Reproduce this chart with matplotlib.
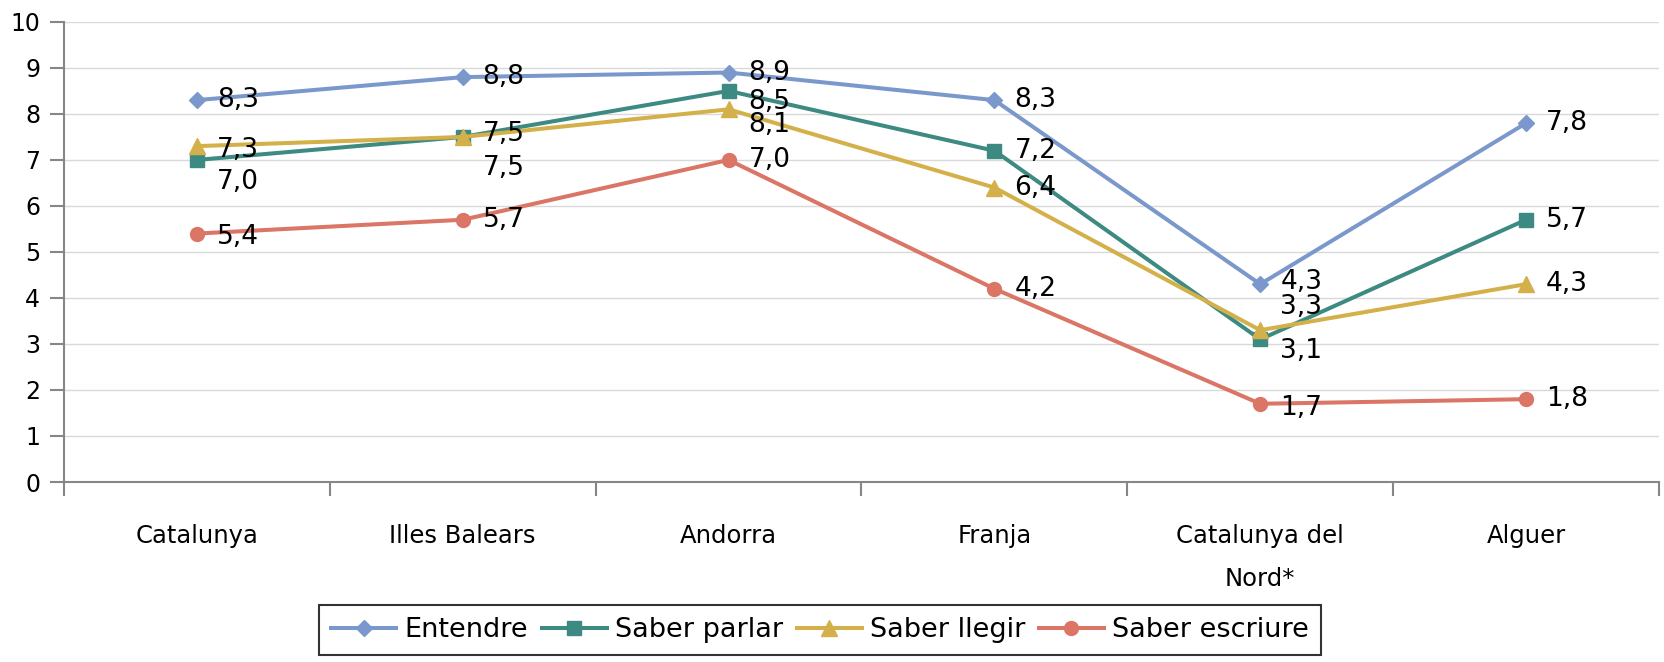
import matplotlib
matplotlib.use("Agg")
import matplotlib.pyplot as plt
import numpy as np

# data
categories = ["Catalunya", "Illes Balears", "Andorra", "Franja",
              "Catalunya del\nNord*", "Alguer"]
entendre = [8.3, 8.8, 8.9, 8.3, 4.3, 7.8]
saber_parlar = [7.0, 7.5, 8.5, 7.2, 3.1, 5.7]
saber_llegir = [7.3, 7.5, 8.1, 6.4, 3.3, 4.3]
saber_escriure = [5.4, 5.7, 7.0, 4.2, 1.7, 1.8]
series_names = ["Entendre", "Saber parlar", "Saber llegir", "Saber escriure"]

# style
colors = ["#7b98cc", "#3d8a82", "#d4b04a", "#db7565"]
markers = ["D", "s", "^", "o"]
msizes = [8.5, 9.5, 11, 10]
# label offsets in pixels (dy, positive = down)
label_dy = [
    [0, 0, 0, 0, -2, 0],
    [22, 31, 11, 0, 12, 0],
    [4, -3, 16, 0, -23, 0],
    [3, 0, 0, 0, 4, 0],
]

plt.rcParams['font.family'] = ['DejaVu Sans']

fig = plt.figure(figsize=(16.65, 6.62), dpi=100)
ax = fig.add_axes([0.0384, 0.2719, 0.958, 0.695])

x = np.arange(len(categories))
all_series = [entendre, saber_parlar, saber_llegir, saber_escriure]
for i, vals in enumerate(all_series):
    ax.plot(x, vals, color=colors[i], lw=2.9, marker=markers[i],
            markersize=msizes[i], label=series_names[i], zorder=3)
    for j, v in enumerate(vals):
        ax.annotate(f"{v:.1f}".replace(".", ","), (x[j], v),
                    xytext=(20, -label_dy[i][j]), textcoords="offset pixels",
                    ha="left", va="center", fontsize=19, zorder=4)

ax.set_ylim(0, 10)
ax.set_xlim(-0.5, len(categories) - 0.5)
ax.set_yticks(np.arange(0, 11, 1))
ax.yaxis.grid(True, color="#d9d9d9", lw=1)
ax.set_axisbelow(True)

# category boundaries as major ticks, names on minor ticks
ax.set_xticks(np.arange(-0.5, len(categories), 1))
ax.set_xticklabels([])
ax.set_xticks(x, minor=True)
ax.set_xticklabels(categories, minor=True, fontsize=17.5)
for t in ax.get_xticklabels(minor=True):
    t.set_linespacing(2.0)
ax.tick_params(axis="x", which="minor", length=0, pad=30)
ax.tick_params(axis="x", which="major", length=10, width=1.5, color="#868686")
ax.tick_params(axis="y", length=10, width=1.5, color="#868686", labelsize=17, pad=7)

for s in ["top", "right"]:
    ax.spines[s].set_visible(False)
for s in ["left", "bottom"]:
    ax.spines[s].set_color("#868686")
    ax.spines[s].set_linewidth(1.5)

leg = fig.legend(loc="center", bbox_to_anchor=(0.4925, 0.0483), ncol=4,
                 fontsize=19.5, frameon=True, fancybox=False, handlelength=2.4,
                 handletextpad=0.3, columnspacing=0.5, borderpad=0.45)
leg.get_frame().set_edgecolor("black")
leg.get_frame().set_linewidth(1.5)

fig.savefig("out.png", dpi=100)
